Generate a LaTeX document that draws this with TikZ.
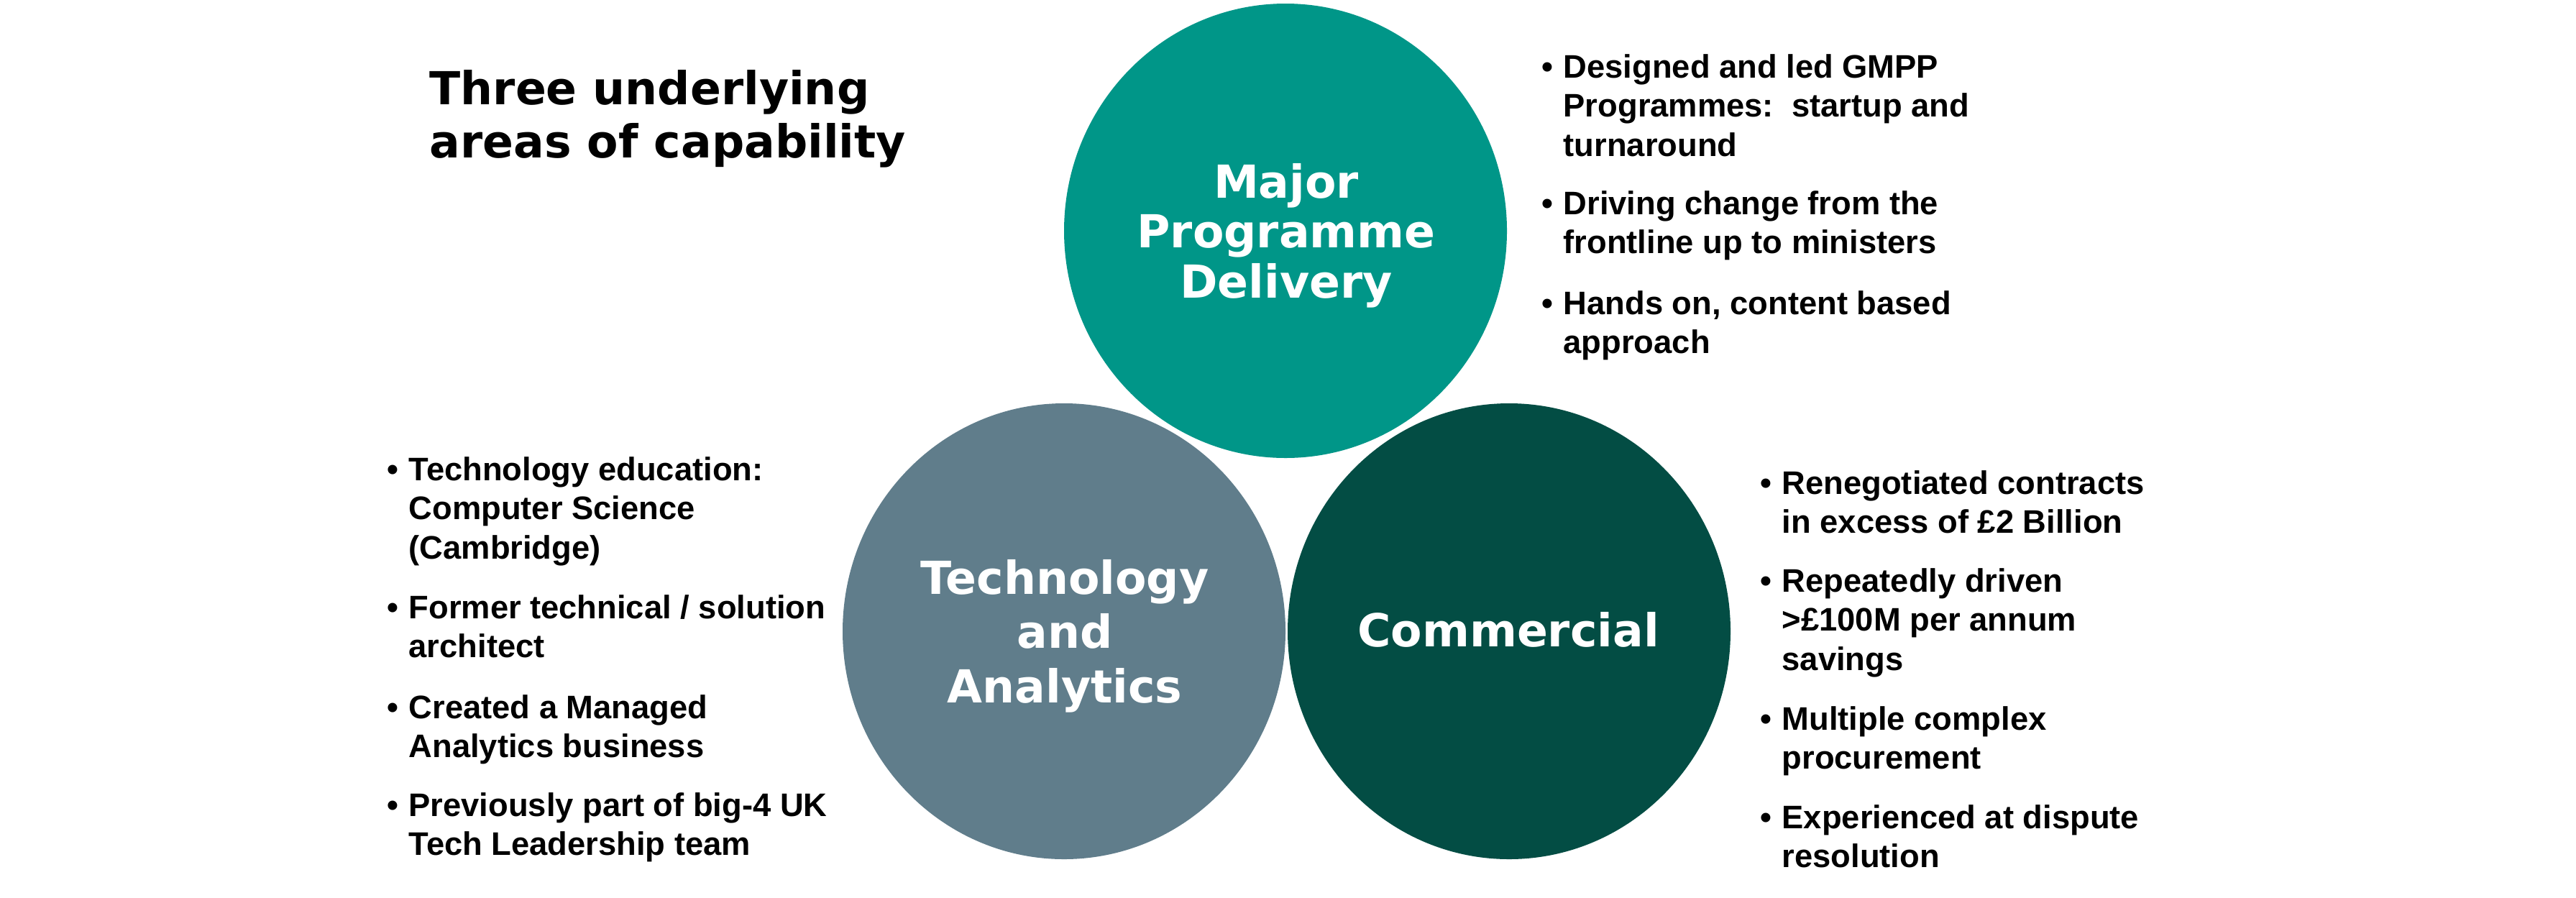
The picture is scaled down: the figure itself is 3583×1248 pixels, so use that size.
\documentclass[tikz,border=0pt]{standalone}
\usepackage{fontspec}
\setmainfont{Liberation Sans}
\newfontfamily\headfont{DejaVu Sans}
\usetikzlibrary{shapes.geometric}
\definecolor{mpdcol}{HTML}{009688}
\definecolor{techcol}{HTML}{607D8B}
\definecolor{comcol}{HTML}{034D44}
\newcommand{\bulbox}{\makebox[3mm][l]{•}}
\begin{document}
\begin{tikzpicture}[x=0.1mm,y=-0.1mm,
  blob/.style={ellipse, inner sep=0pt, outer sep=0pt, minimum width=61.6mm, minimum height=63.4mm, draw=none},
  lab/.style={inner sep=0pt, text=white, anchor=base, font=\headfont\bfseries\fontsize{18pt}{21pt}\selectfont},
  ttl/.style={inner sep=0pt, text=black, anchor=base west, font=\headfont\bfseries\fontsize{18pt}{21.3pt}\selectfont},
  bul/.style={inner sep=0pt, anchor=base west, text=black, font=\bfseries\fontsize{12.9pt}{15.6pt}\selectfont}]
\useasboundingbox (0,0) rectangle (3583,1248);
\fill[white] (0,0) rectangle (3583,1248);
% circles
\node[blob, fill=techcol] (tech) at (1480,878) {};
\node[blob, fill=comcol] (com) at (2099,878) {};
\node[blob, fill=mpdcol, minimum height=63.2mm] (mpd) at (1788,321) {};
% circle labels
\node[lab] (mpdlab) at (1789,275) {\parbox[t]{60mm}{\centering\baselineskip=19.8pt Major\\Programme\\Delivery}};
\node[lab] (techlab) at (1481,826) {\parbox[t]{60mm}{\centering\baselineskip=21.5pt Technology\\and\\Analytics}};
\node[lab] (comlab) at (2098,899) {Commercial};
% title
\node[ttl] (title) at (597,145) {\parbox[t]{90mm}{\raggedright\baselineskip=21.3pt Three underlying\\areas of capability}};
% top-right bullets
\node[bul] (tr1) at (2144,108) {\bulbox\parbox[t]{80mm}{\raggedright Designed and led GMPP\\Programmes:\ \ startup and\\turnaround}};
\node[bul] (tr2) at (2144,298) {\bulbox\parbox[t]{80mm}{\raggedright Driving change from the\\frontline up to ministers}};
\node[bul] (tr3) at (2144,437) {\bulbox\parbox[t]{80mm}{\raggedright Hands on, content based\\approach}};
% left bullets
\node[bul] (l1) at (538,668) {\bulbox\parbox[t]{80mm}{\raggedright Technology education:\\Computer Science\\(Cambridge)}};
\node[bul] (l2) at (538,860) {\bulbox\parbox[t]{80mm}{\raggedright Former technical / solution\\architect}};
\node[bul] (l3) at (538,999) {\bulbox\parbox[t]{80mm}{\raggedright Created a Managed\\Analytics business}};
\node[bul] (l4) at (538,1135) {\bulbox\parbox[t]{80mm}{\raggedright Previously part of big-4 UK\\Tech Leadership team}};
% right bullets
\node[bul] (r1) at (2448,687) {\bulbox\parbox[t]{80mm}{\raggedright Renegotiated contracts\\in excess of £2 Billion}};
\node[bul] (r2) at (2448,823) {\bulbox\parbox[t]{80mm}{\raggedright Repeatedly driven\\>£100M per annum\\savings}};
\node[bul] (r3) at (2448,1015) {\bulbox\parbox[t]{80mm}{\raggedright Multiple complex\\procurement}};
\node[bul] (r4) at (2448,1152) {\bulbox\parbox[t]{80mm}{\raggedright Experienced at dispute\\resolution}};
\end{tikzpicture}
\end{document}
